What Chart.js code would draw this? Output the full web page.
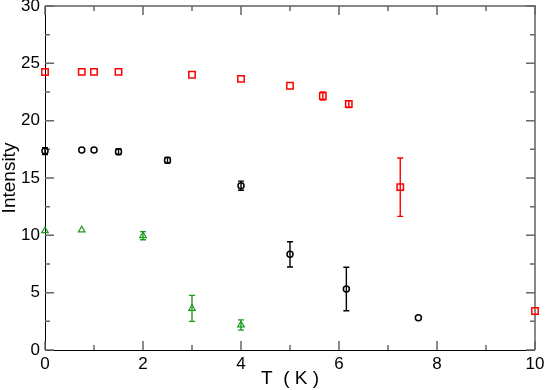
<!DOCTYPE html>
<html>
<head>
<meta charset="utf-8">
<script src="https://cdn.jsdelivr.net/npm/chart.js@4"></script>
<style>
  html, body { margin: 0; padding: 0; background: #fff; }
  #wrap { width: 545px; height: 390px; }
</style>
</head>
<body>
<div id="wrap"><canvas id="chart"></canvas></div>
<script>
/* ---------------- DATA ---------------- */
const redT   = [0, 0.75, 1.0, 1.5, 3.0, 4.0, 5.0, 5.67, 6.2, 7.25, 10];
const redI   = [24.24, 24.25, 24.25, 24.25, 24.0, 23.65, 23.05, 22.15, 21.45, 14.2, 3.4];
const redErr = [0, 0, 0, 0, 0, 0, 0, 0.36, 0.3, 2.55, 0];

const blackT   = [0, 0.75, 1.0, 1.5, 2.5, 4.0, 5.0, 6.15, 7.62];
const blackI   = [17.35, 17.44, 17.44, 17.3, 16.55, 14.33, 8.34, 5.32, 2.82];
const blackErr = [0.3, 0, 0, 0.25, 0.25, 0.4, 1.1, 1.9, 0];

const greenT   = [0, 0.75, 2.0, 3.0, 4.0];
const greenI   = [10.4, 10.46, 9.97, 3.63, 2.18];
const greenErr = [0, 0, 0.35, 1.13, 0.45];

const xTicks = [0, 2, 4, 6, 8, 10];
const yTicks = [0, 5, 10, 15, 20, 25, 30];

const FONT = "'Liberation Sans', Arial, sans-serif";

function pts(xs, ys, es) {
    return xs.map((x, i) => ({ x: x, y: ys[i], err: es[i] }));
}

/* ---------------- ERROR BARS ---------------- */
const errorBars = {
    id: "errorBars",
    afterDatasetsDraw(chart) {
        const ctx = chart.ctx;
        const xs = chart.scales.x, ys = chart.scales.y;
        chart.data.datasets.forEach(ds => {
            ctx.save();
            ctx.strokeStyle = ds.borderColor;
            ctx.lineWidth = 1.4;
            ds.data.forEach(p => {
                if (!p.err) return;
                const px = xs.getPixelForValue(p.x);
                const top = ys.getPixelForValue(p.y + p.err);
                const bot = ys.getPixelForValue(p.y - p.err);
                ctx.beginPath();
                ctx.moveTo(px, top); ctx.lineTo(px, bot);
                ctx.moveTo(px - 3, top); ctx.lineTo(px + 3, top);
                ctx.moveTo(px - 3, bot); ctx.lineTo(px + 3, bot);
                ctx.stroke();
            });
            ctx.restore();
        });
    }
};

/* ---------------- FRAME + INWARD TICKS ---------------- */
const frame = {
    id: "frame",
    beforeDatasetsDraw(chart) {
        const ctx = chart.ctx;
        const a = chart.chartArea;
        const xs = chart.scales.x, ys = chart.scales.y;
        ctx.save();
        // top / right edges (soft)
        ctx.strokeStyle = "#888";
        ctx.lineWidth = 2;
        ctx.beginPath();
        ctx.moveTo(a.left, a.top); ctx.lineTo(a.right, a.top); ctx.lineTo(a.right, a.bottom);
        ctx.stroke();
        // left / bottom axes
        ctx.strokeStyle = "#000";
        ctx.lineWidth = 1;
        ctx.beginPath();
        ctx.moveTo(a.left + 0.5, a.top); ctx.lineTo(a.left + 0.5, a.bottom + 0.5); ctx.lineTo(a.right, a.bottom + 0.5);
        ctx.stroke();

        ctx.strokeStyle = "#666";
        ctx.lineWidth = 1.5;
        ctx.beginPath();
        for (let v = 0; v <= 10; v += 1) {
            const px = xs.getPixelForValue(v);
            const len = v % 2 === 0 ? 9 : 5;
            ctx.moveTo(px, a.bottom); ctx.lineTo(px, a.bottom - len);
            ctx.moveTo(px, a.top); ctx.lineTo(px, a.top + len);
        }
        for (let v = 0; v <= 30; v += 2.5) {
            const py = ys.getPixelForValue(v);
            const len = v % 5 === 0 ? 9 : 5;
            ctx.moveTo(a.left, py); ctx.lineTo(a.left + len, py);
            ctx.moveTo(a.right, py); ctx.lineTo(a.right - len, py);
        }
        ctx.stroke();
        ctx.restore();
    }
};

/* ---------------- CHART ---------------- */
new Chart(document.getElementById("chart"), {
    type: "scatter",
    data: {
        datasets: [
            {
                label: "red",
                data: pts(redT, redI, redErr),
                pointStyle: "rect",
                pointRadius: 4.5,
                borderColor: "#ff0000",
                backgroundColor: "rgba(0,0,0,0)",
                borderWidth: 1.5
            },
            {
                label: "black",
                data: pts(blackT, blackI, blackErr),
                pointStyle: "circle",
                pointRadius: 3,
                borderColor: "#000000",
                backgroundColor: "rgba(0,0,0,0)",
                borderWidth: 1.5
            },
            {
                label: "green",
                data: pts(greenT, greenI, greenErr),
                pointStyle: "triangle",
                pointRadius: 3.8,
                borderColor: "#1f9a1f",
                backgroundColor: "rgba(0,0,0,0)",
                borderWidth: 1.2
            }
        ]
    },
    options: {
        responsive: true,
        maintainAspectRatio: false,
        animation: false,
        clip: false,
        layout: { padding: 0 },
        plugins: {
            legend: { display: false },
            tooltip: { enabled: false }
        },
        scales: {
            x: {
                type: "linear",
                min: 0, max: 10,
                afterBuildTicks: s => { s.ticks = xTicks.map(v => ({ value: v })); },
                afterFit: s => { s.height = 40; s.paddingLeft = 0; s.paddingRight = 10; },
                grid: { display: false, drawTicks: false },
                border: { display: false },
                ticks: { padding: 4, color: "#000", font: { family: FONT, size: 17 }, maxRotation: 0 },
                title: {
                    display: true, text: "T  ( K )", color: "#000",
                    font: { family: FONT, size: 19 }, padding: { top: 0, bottom: 0 }
                }
            },
            y: {
                type: "linear",
                min: 0, max: 30,
                afterBuildTicks: s => { s.ticks = yTicks.map(v => ({ value: v })); },
                afterFit: s => { s.width = 45; s.paddingTop = 6; s.paddingBottom = 0; },
                grid: { display: false, drawTicks: false },
                border: { display: false },
                ticks: { padding: 5, color: "#000", font: { family: FONT, size: 17 } },
                title: {
                    display: true, text: "Intensity", color: "#000",
                    font: { family: FONT, size: 19, lineHeight: 1.0 }, padding: { top: 0, bottom: 0 }
                }
            }
        }
    },
    plugins: [frame, errorBars]
});
</script>
</body>
</html>
